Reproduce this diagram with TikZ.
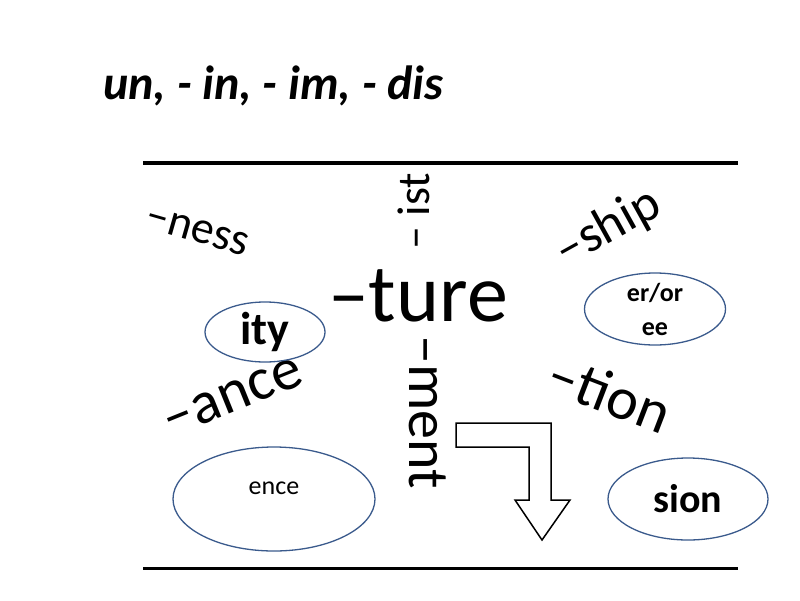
\documentclass[tikz,border=0pt]{standalone}
\usepackage{fontspec}
\setmainfont{Carlito}
\usetikzlibrary{shapes.geometric}
\definecolor{ellblue}{HTML}{3A5A8C}
\tikzset{
  suffix/.style={inner sep=0pt, font=\fontsize{#1}{#1}\selectfont},
  oval/.style={draw=ellblue, line width=1.3pt, ellipse, minimum width=#1, inner sep=0pt},
  rule/.style={line width=3.5pt, line cap=butt},
}
\begin{document}
\begin{tikzpicture}[x=1pt, y=-1pt]
\useasboundingbox (0,0) rectangle (800,600);
% title
\node[anchor=base west, inner sep=0pt, font=\fontsize{48}{48}\selectfont\bfseries\itshape] (title) at (103,99) {un, - in, - im, - dis};
% rules
\coordinate (t1) at (143,163); \coordinate (t2) at (738,163);
\coordinate (b1) at (143,568); \coordinate (b2) at (738,568);
\draw[rule] (t1) -- (t2);
\draw[rule, line width=3pt] (b1) -- (b2);
% suffixes
\node[suffix=46, rotate=-16] (ness) at (197,231) {–ness};
\node[suffix=52, rotate=29] (ship) at (608,228) {–ship};
\node[suffix=82] (ture) at (418,296) {–ture};
\node[suffix=46, rotate=90] (ist) at (414,211) {– ist};
\node[suffix=58, rotate=-90] (ment) at (428,412) {–ment};
\node[suffix=60, rotate=22] (ance) at (233,397) {–ance};
\node[suffix=60, rotate=-21] (tion) at (610,393) {–tion};
% ellipses
\node[oval=120pt, minimum height=60pt] (ity) at (265,332) {};
\node[font=\fontsize{46}{46}\selectfont\bfseries] (itytext) at (ity.center) {ity};
\node[oval=141pt, minimum height=72pt] (eror) at (655,309) {};
\node[font=\fontsize{26}{34}\selectfont\bfseries, align=center] (erortext) at (eror.center) {er/or\\ee};
\node[oval=202pt, minimum height=104pt] (ence) at (274,499) {};
\node[font=\fontsize{26}{26}\selectfont, anchor=center] (encetext) at (274,488) {ence};
\node[oval=160pt, minimum height=82pt] (sion) at (688,499) {};
\node[font=\fontsize{40}{40}\selectfont\bfseries] (siontext) at (sion.center) {sion};
% bent arrow
\draw[line width=1.5pt, line join=miter, fill=white]
  (456,423) -- (551,423) -- (551,500) -- (570,500) -- (542,540) -- (515,500)
  -- (529,500) -- (529,447) -- (456,447) -- cycle;
\end{tikzpicture}
\end{document}
